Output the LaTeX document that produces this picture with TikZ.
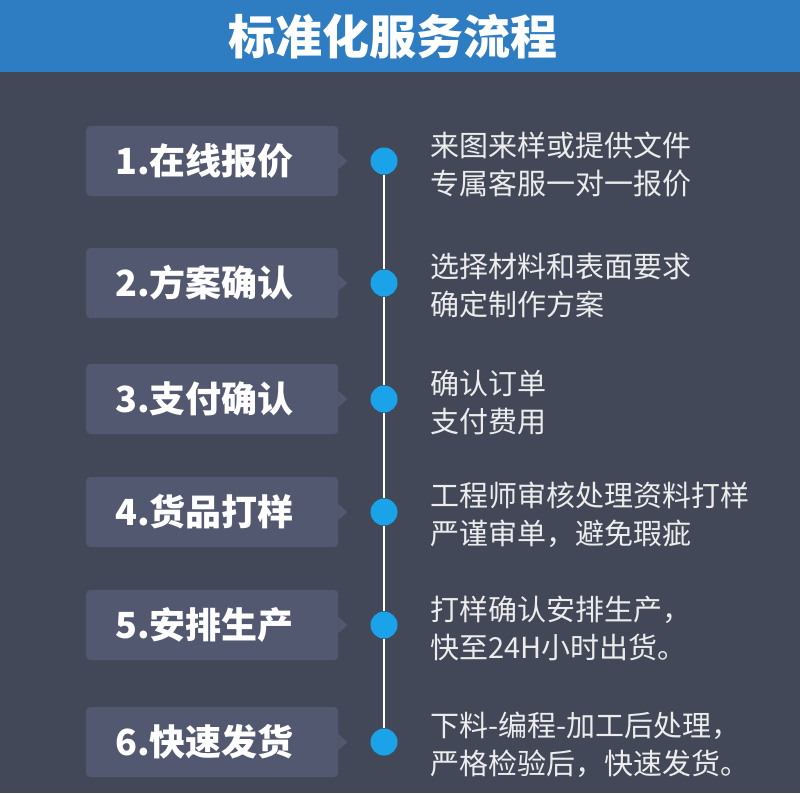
\documentclass[tikz,border=0pt]{standalone}
\usepackage{fontspec}
\setmainfont{Noto Sans CJK SC}
\usetikzlibrary{positioning}

\definecolor{bannerblue}{HTML}{2E7CC1}
\definecolor{pagegray}{HTML}{434858}
\definecolor{boxgray}{HTML}{525870}
\definecolor{dotblue}{HTML}{1AA3E8}
\definecolor{notegray}{HTML}{ECECEC}

\begin{document}
\begin{tikzpicture}[x=1pt, y=-1pt]
    \tikzset{
      stepbox/.style={
        rectangle, rounded corners=4pt,
        fill=boxgray, text=white,
        text width=194pt, inner xsep=29pt, inner ysep=0pt,
        minimum height=70pt, align=left, anchor=west,
        font=\fontsize{36}{40}\selectfont\bfseries
      },
      dot/.style={circle, fill=dotblue, minimum size=27pt, inner sep=0pt},
      note/.style={
        anchor=west, align=left, text=notegray, inner sep=0pt,
        font=\fontsize{29}{38}\selectfont
      },
      spine/.style={draw=white, line width=2pt}
    }

    % Page and banner
    \useasboundingbox (0,0) rectangle (800,793);
    \fill[pagegray] (0,0) rectangle (800,793);
    \fill[bannerblue] (0,0) rectangle (800,72);
    \node[font=\fontsize{47}{50}\selectfont\bfseries, text=white] (title) at (393,37) {标准化服务流程};

    % Row 1
    \node[stepbox] (b1) at (86,161) {1.在线报价};
    \node[dot] (d1) at (384,161) {};
    \node[note] (n1) at (430,164) {来图来样或提供文件\\专属客服一对一报价};

    % Row 2
    \node[stepbox] (b2) at (86,283) {2.方案确认};
    \node[dot] (d2) at (384,283) {};
    \node[note] (n2) at (430,286) {选择材料和表面要求\\确定制作方案};

    % Row 3
    \node[stepbox] (b3) at (86,399) {3.支付确认};
    \node[dot] (d3) at (384,399) {};
    \node[note] (n3) at (430,402) {确认订单\\支付费用};

    % Row 4
    \node[stepbox] (b4) at (86,512) {4.货品打样};
    \node[dot] (d4) at (384,512) {};
    \node[note] (n4) at (430,515) {工程师审核处理资料打样\\严谨审单，避免瑕疵};

    % Row 5
    \node[stepbox] (b5) at (86,625) {5.安排生产};
    \node[dot] (d5) at (384,625) {};
    \node[note] (n5) at (430,628) {打样确认安排生产，\\快至24H小时出货。};

    % Row 6
    \node[stepbox] (b6) at (86,742) {6.快速发货};
    \node[dot] (d6) at (384,742) {};
    \node[note] (n6) at (430,745) {下料-编程-加工后处理，\\严格检验后，快速发货。};

    % Pointer tips on the boxes
    \foreach \b in {b1,b2,b3,b4,b5,b6}
      \fill[boxgray] (\b.east) ++(0,-8) -- ++(9,8) -- ++(-9,8) -- cycle;

    % Timeline between the dots
    \draw[spine] (d1) -- (d2) -- (d3) -- (d4) -- (d5) -- (d6);
  \end{tikzpicture}
\end{document}
